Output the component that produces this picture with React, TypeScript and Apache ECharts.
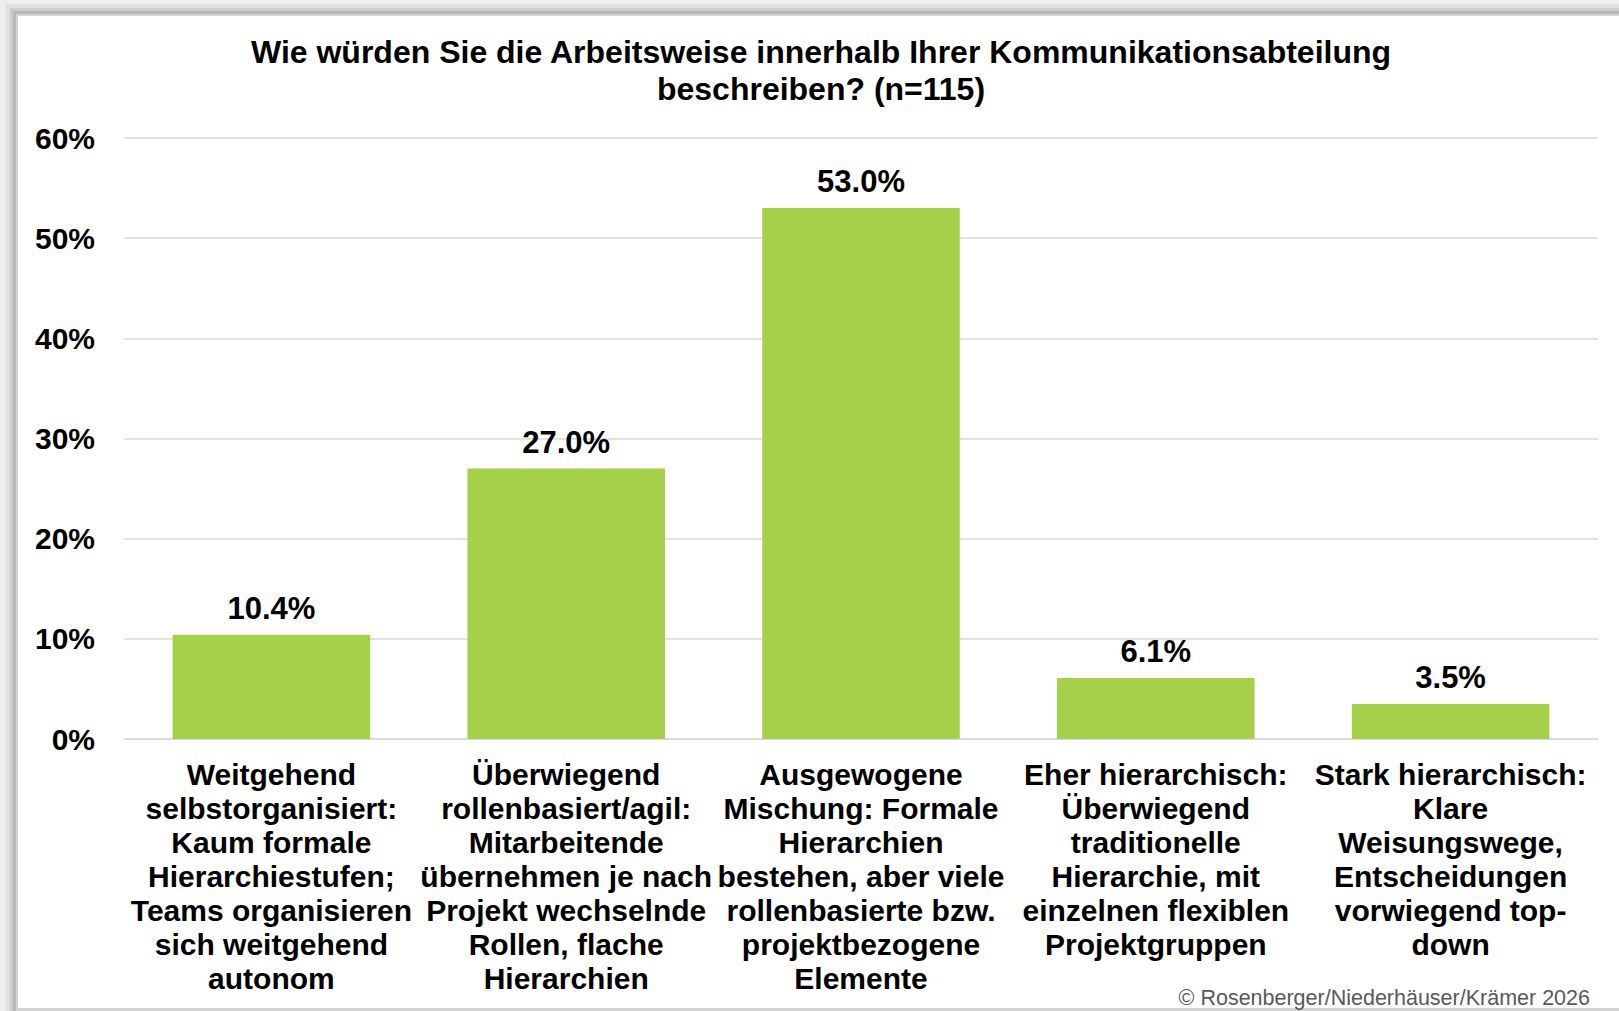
import React, { useEffect, useRef } from "react";
import * as echarts from "echarts";

const titleLines = [
  "Wie würden Sie die Arbeitsweise innerhalb Ihrer Kommunikationsabteilung",
  "beschreiben? (n=115)",
];

const categories = [
  "Weitgehend\nselbstorganisiert:\nKaum formale\nHierarchiestufen;\nTeams organisieren\nsich weitgehend\nautonom",
  "Überwiegend\nrollenbasiert/agil:\nMitarbeitende\nübernehmen je nach\nProjekt wechselnde\nRollen, flache\nHierarchien",
  "Ausgewogene\nMischung: Formale\nHierarchien\nbestehen, aber viele\nrollenbasierte bzw.\nprojektbezogene\nElemente",
  "Eher hierarchisch:\nÜberwiegend\ntraditionelle\nHierarchie, mit\neinzelnen flexiblen\nProjektgruppen",
  "Stark hierarchisch:\nKlare\nWeisungswege,\nEntscheidungen\nvorwiegend top-\ndown",
];

const values = [10.4, 27.0, 53.0, 6.1, 3.5];

const yMin = 0;
const yMax = 60;
const yInterval = 10;

const copyright = "© Rosenberger/Niederhäuser/Krämer 2026";

const FONT = "'Liberation Sans', Arial, Helvetica, sans-serif";

export default function App() {
  const ref = useRef<HTMLDivElement>(null);

  useEffect(() => {
    if (!ref.current) return;
    const chart = echarts.init(ref.current, undefined, { renderer: "svg" });
    chart.setOption({
      animation: false,
      backgroundColor: "#ffffff",
      graphic: [
        { type: "rect", z: -10, shape: { x: 0, y: 0, width: 1619, height: 1011 }, style: { fill: "#eeeeee" }, silent: true },
        { type: "rect", z: -9, shape: { x: 6, y: 4, width: 1613, height: 1007 }, style: { fill: "#e0e0e0" }, silent: true },
        { type: "rect", z: -8, shape: { x: 10, y: 8, width: 1609, height: 1003 }, style: { fill: "#cccccc" }, silent: true },
        { type: "rect", z: -7, shape: { x: 13, y: 11, width: 1606, height: 1000 }, style: { fill: "#b8b8b8" }, silent: true },
        { type: "rect", z: -6, shape: { x: 16, y: 14, width: 1603, height: 997 }, style: { fill: "#d4d4d4" }, silent: true },
        { type: "rect", z: -5, shape: { x: 18, y: 16, width: 1601, height: 992 }, style: { fill: "#ffffff" }, silent: true },
        {
          type: "text",
          x: 821,
          y: 70,
          style: {
            text: titleLines.join("\n"),
            font: `bold 32px ${FONT}`,
            fill: "#000000",
            textAlign: "center",
            textVerticalAlign: "middle",
            lineHeight: 37,
          },
        },
        {
          type: "text",
          x: 1590,
          y: 998,
          style: {
            text: copyright,
            font: `21.5px ${FONT}`,
            fill: "#595959",
            textAlign: "right",
            textVerticalAlign: "middle",
          },
        },
      ],
      grid: { left: 124, right: 21, top: 138, bottom: 272, containLabel: false },
      xAxis: {
        type: "category",
        data: categories,
        axisLine: { show: true, lineStyle: { color: "#d9d9d9", width: 1.5 } },
        axisTick: { show: false },
        axisLabel: {
          interval: 0,
          margin: 18,
          color: "#000000",
          fontFamily: FONT,
          fontWeight: "bold",
          fontSize: 30,
          lineHeight: 34,
          align: "center",
        },
      },
      yAxis: {
        type: "value",
        min: yMin,
        max: yMax,
        interval: yInterval,
        axisLine: { show: false },
        axisTick: { show: false },
        splitLine: { show: true, lineStyle: { color: "#d9d9d9", width: 1.5 } },
        axisLabel: {
          margin: 29,
          color: "#000000",
          fontFamily: FONT,
          fontWeight: "bold",
          fontSize: 30,
          formatter: "{value}%",
        },
      },
      series: [
        {
          type: "bar",
          data: values,
          barCategoryGap: "33%",
          itemStyle: { color: "#a5d04a" },
          label: {
            show: true,
            position: "top",
            distance: 11,
            color: "#000000",
            fontFamily: FONT,
            fontWeight: "bold",
            fontSize: 31,
            formatter: (p: any) => `${Number(p.value).toFixed(1)}%`,
          },
        },
      ],
    });
    return () => chart.dispose();
  }, []);

  return (
    <div
      ref={ref}
      style={{ position: "fixed", left: 0, top: 0, width: 1619, height: 1011 }}
    />
  );
}
